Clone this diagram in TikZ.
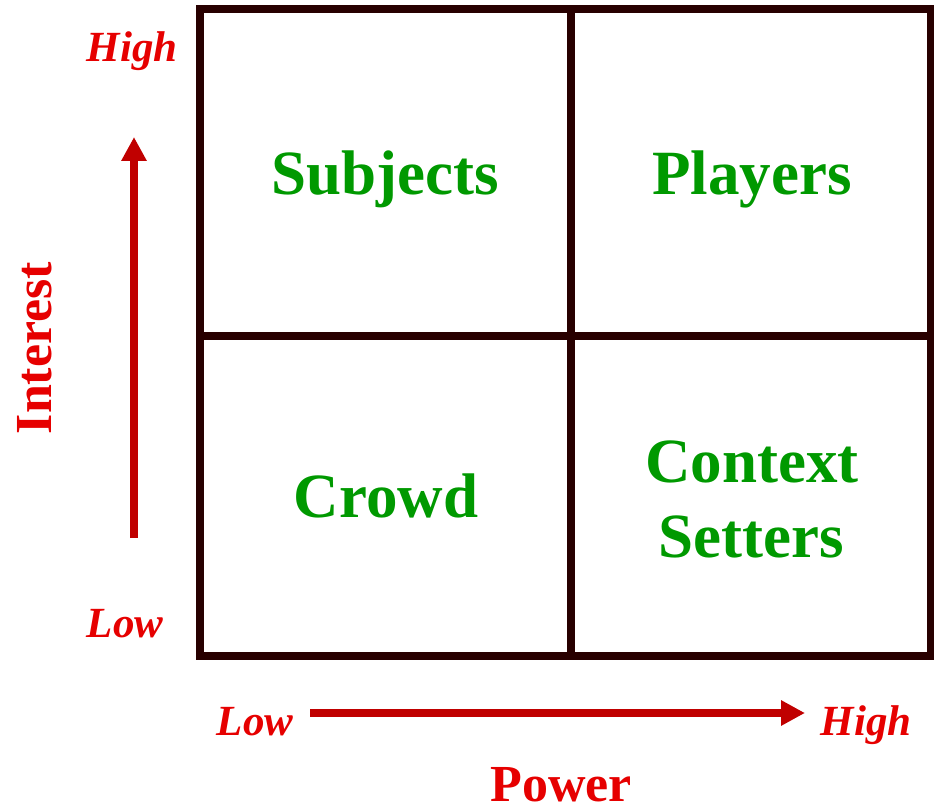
\documentclass[tikz,border=0pt]{standalone}
\usepackage{fontspec}
\setmainfont{Liberation Serif}
\usetikzlibrary{arrows.meta}
\definecolor{gridc}{RGB}{40,0,0}
\definecolor{labred}{RGB}{230,0,0}
\definecolor{arrred}{RGB}{192,0,0}
\definecolor{cellgreen}{RGB}{0,153,0}
\tikzset{
  gridline/.style={draw=gridc, line width=8pt},
  celltext/.style={text=cellgreen, font=\fontsize{63}{73}\selectfont\bfseries, anchor=base, inner sep=0pt, align=center},
  endlabel/.style={text=labred, font=\fontsize{43}{50}\selectfont\bfseries\itshape, anchor=base, inner sep=0pt},
  axislabel/.style={text=labred, font=\fontsize{52}{60}\selectfont\bfseries, anchor=base, inner sep=0pt},
  axisarrow/.style={draw=arrred, line width=8pt, -{Triangle[width=24pt,length=24pt]}}
}
\begin{document}
\begin{tikzpicture}[x=1pt,y=-1pt]
\useasboundingbox (0,0) rectangle (934,810);
% grid
\coordinate (tl) at (200,9.5);
\coordinate (br) at (931,655.5);
\coordinate (vt) at (570.7,9.5);
\coordinate (vb) at (570.7,655.5);
\coordinate (hl) at (200,336);
\coordinate (hr) at (931,336);
\draw[gridline] (tl) rectangle (br);
\draw[gridline] (vt) -- (vb);
\draw[gridline] (hl) -- (hr);
% cell texts
\node[celltext] (subjects) at (385,195) {Subjects};
\node[celltext] (players) at (752,195) {Players};
\node[celltext] (crowd) at (386,517) {Crowd};
\node[celltext] (context) at (752,482) {Context};
\node[celltext] (setters) at (751,557) {Setters};
% axis end labels
\node[endlabel] (yhigh) at (132,62) {High};
\node[endlabel] (ylow) at (125,637) {Low};
\node[endlabel] (xlow) at (255,735) {Low};
\node[endlabel] (xhigh) at (866,735) {High};
% axis titles
\node[axislabel] (power) at (561,801) {Power};
\node[axislabel, rotate=90] (interest) at (51,348) {Interest};
% arrows
\coordinate (ya) at (134,538);
\coordinate (yb) at (134,137);
\coordinate (xa) at (310,713);
\coordinate (xb) at (805,713);
\draw[axisarrow] (ya) -- (yb);
\draw[axisarrow] (xa) -- (xb);
\end{tikzpicture}
\end{document}
